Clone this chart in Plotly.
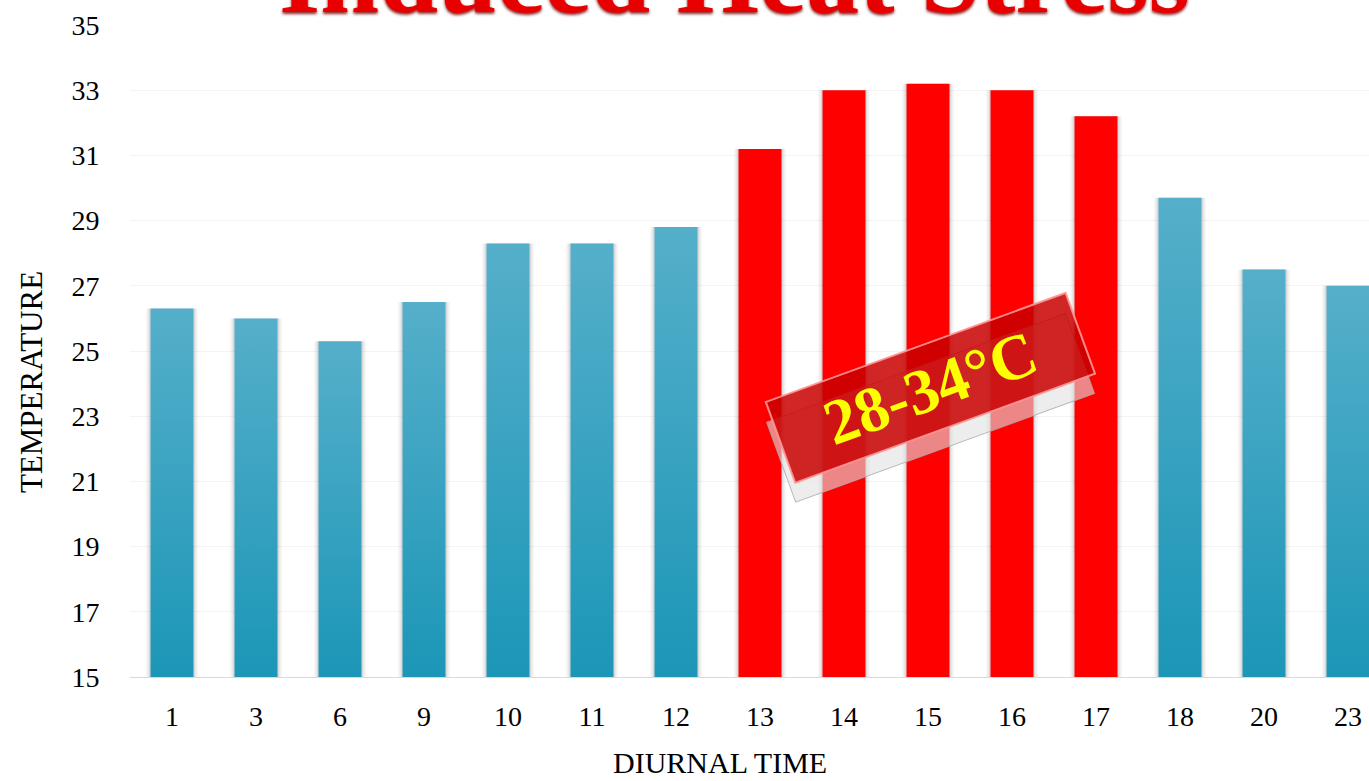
import plotly.graph_objects as go

# Diurnal temperature profile
hours = ["1", "3", "6", "9", "10", "11", "12", "13", "14", "15", "16", "17", "18", "20", "23"]
temperature = [26.3, 26.0, 25.3, 26.5, 28.3, 28.3, 28.8, 31.2, 33.0, 33.2, 33.0, 32.2, 29.7, 27.5, 27.0]
heat_stress = [False, False, False, False, False, False, False, True, True, True, True, True, False, False, False]
y_ticks = list(range(15, 36, 2))

BASE = 15
HALF_W = 0.256
SERIF = "Liberation Serif, Times New Roman, serif"

fig = go.Figure()

# soft shadow behind each column
idx = list(range(len(hours)))
for w, a in [(0.62, 0.035), (0.58, 0.05), (0.55, 0.07)]:
    fig.add_trace(go.Bar(
        x=idx, y=[t - BASE for t in temperature], base=BASE, width=w,
        marker=dict(color=f"rgba(0,0,0,{a})", line=dict(width=0)),
        hoverinfo="skip", showlegend=False,
    ))

# columns: gradient blue for normal hours, solid red for heat-stress hours
for i, (t, hot) in enumerate(zip(temperature, heat_stress)):
    xs = [i - HALF_W, i + HALF_W, i + HALF_W, i - HALF_W, i - HALF_W]
    ys = [BASE, BASE, t, t, BASE]
    tr = dict(x=xs, y=ys, mode="lines", fill="toself",
              line=dict(width=0, color="rgba(0,0,0,0)"),
              name=hours[i], showlegend=False, hoverinfo="skip")
    if hot:
        tr["fillcolor"] = "#FF0000"
    else:
        tr["fillgradient"] = dict(type="vertical",
                                  colorscale=[[0, "#1C96B7"], [1, "#55AFCA"]])
    fig.add_trace(go.Scatter(**tr))

fig.update_layout(
    width=1369, height=781,
    margin=dict(l=130, r=0, t=25, b=104),
    paper_bgcolor="white", plot_bgcolor="white",
    barmode="overlay",
    font=dict(family=SERIF, color="#000000", size=28),
    xaxis=dict(
        range=[-0.5, 14.25], tickmode="array", tickvals=idx, ticktext=hours,
        showgrid=False, zeroline=False, showline=True, linecolor="#D9D9D9", linewidth=1,
        ticks="outside", ticklen=14, tickcolor="rgba(0,0,0,0)",
        tickfont=dict(family=SERIF, size=28),
    ),
    yaxis=dict(
        range=[15, 35], tickmode="array", tickvals=y_ticks,
        showgrid=True, gridcolor="#F4F4F4", gridwidth=1, zeroline=False, showline=False,
        ticks="outside", ticklen=24, tickcolor="rgba(0,0,0,0)",
        tickfont=dict(family=SERIF, size=28),
    ),
)

annotations = [
    # chart title
    dict(text="<b>Induced Heat Stress</b>", xref="paper", yref="paper", x=0.4875, y=0.982,
         xanchor="center", yanchor="bottom", showarrow=False,
         font=dict(family=SERIF, size=106, color="#E80000",
                   shadow="0px 2px 3px rgba(120,0,0,0.85)")),
    # axis titles
    dict(text="TEMPERATURE", xref="paper", yref="paper", x=-0.079, y=0.4525,
         xanchor="center", yanchor="middle", textangle=-90, showarrow=False,
         font=dict(family=SERIF, size=31)),
    dict(text="DIURNAL TIME", xref="paper", yref="paper", x=0.476, y=-0.131,
         xanchor="center", yanchor="middle", showarrow=False,
         font=dict(family=SERIF, size=30)),
    # glass slab: thickness
    dict(text="", xref="paper", yref="paper", x=0.6457, y=0.413,
         xanchor="center", yanchor="middle", textangle=-20, showarrow=False,
         width=315, height=82, bgcolor="rgba(225,225,225,0.6)",
         bordercolor="rgba(170,170,170,0.8)", borderwidth=1),
    # glass slab: top face with range label
    dict(text="<b>28-34°C</b>", xref="paper", yref="paper", x=0.6457, y=0.443,
         xanchor="center", yanchor="middle", textangle=-20, showarrow=False,
         width=315, height=82, bgcolor="rgba(200,0,0,0.85)",
         bordercolor="rgba(255,150,150,0.9)", borderwidth=2,
         font=dict(family=SERIF, size=64, color="#FFFF00")),
]
fig.update_layout(annotations=annotations)

fig.write_html("out.html")
